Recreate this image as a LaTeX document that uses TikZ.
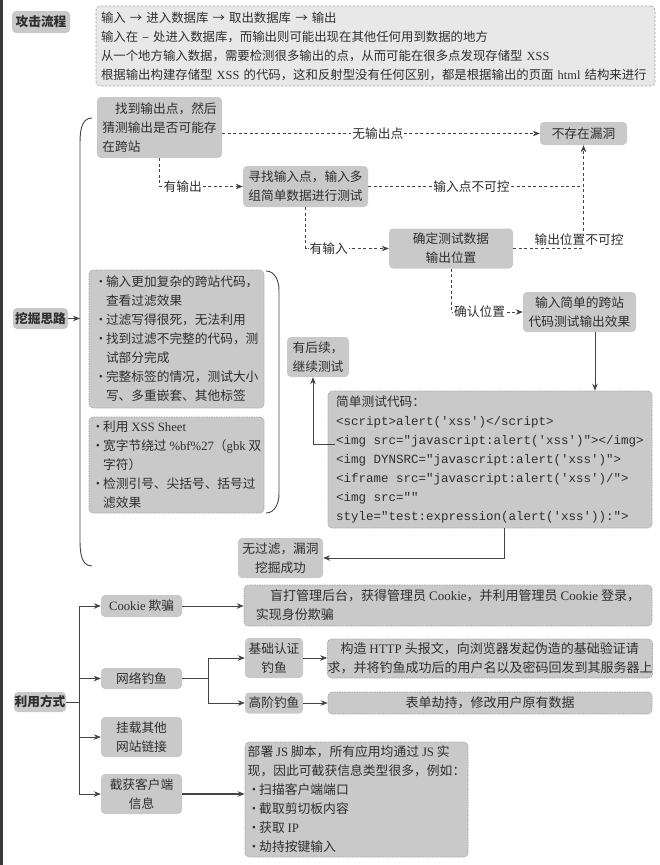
\documentclass[tikz,border=0pt]{standalone}
\usepackage{fontspec}
\setmainfont{Noto Sans CJK SC}
\newfontfamily\latf{Liberation Serif}
\newfontfamily\monof{Liberation Mono}
\usetikzlibrary{arrows.meta}
\definecolor{boxg}{HTML}{C9C9C9}
\definecolor{topg}{HTML}{E8E8E8}
\definecolor{txt}{HTML}{2E2E2E}
\definecolor{ln}{HTML}{444444}
\definecolor{bord}{HTML}{A5A5A5}
\definecolor{darkbar}{HTML}{3A3A3A}
\newcommand{\lw}[1]{{\latf #1}}
\newcommand{\bul}{\makebox[0.9em][l]{•}}
\newcommand{\ind}{\hspace*{0.9em}}
\tikzset{
  fs/.style={font=\fontsize{12.7}{19}\selectfont},
  fsb/.style={font=\fontsize{12.7}{19}\selectfont\bfseries},
  fsl/.style={font=\fontsize{13}{19}\selectfont},
  fst/.style={font=\fontsize{12.4}{19}\selectfont},
  nd/.style={fill=boxg, rounded corners=4pt, text=txt, inner sep=0pt, align=center, fs},
  hd/.style={nd, fsb},
  db/.style={nd, draw=bord, dash pattern=on 1.5pt off 1pt, line width=0.6pt},
  tb/.style={db, fill=topg, dash pattern=on 2.5pt off 1.5pt},
  lab/.style={fill=white, inner sep=1pt, text=txt, fs},
  dl/.style={draw=ln, dash pattern=on 3pt off 2.5pt, line width=0.8pt},
  sl/.style={draw=ln, line width=0.9pt},
  tip/.style={-{Stealth[length=7pt,width=5.5pt]}},
}
\begin{document}
\begin{tikzpicture}[x=1pt,y=-1pt]
\useasboundingbox (0,0) rectangle (659,865);
\fill[darkbar] (0,0) rectangle (3,865);

% ---- attack flow ----
\node[hd, minimum width=58, minimum height=22] (gjlc) at (41,22) {攻击流程};
\node[tb, minimum width=559, minimum height=80, text width=549, align=left, fst] (top) at (375.5,46) {%
输入 → 进入数据库 → 取出数据库 → 输出\\
输入在 – 处进入数据库，而输出则可能出现在其他任何用到数据的地方\\
从一个地方输入数据，需要检测很多输出的点，从而可能在很多点发现存储型 \lw{XSS}\\
根据输出构建存储型 \lw{XSS} 的代码，这和反射型没有任何区别，都是根据输出的页面 \lw{html} 结构来进行};

% ---- mining ideas ----
\node[hd, minimum width=55, minimum height=21] (wjsl) at (40.5,318.5) {挖掘思路};
\coordinate (bk) at (80,318.5);
\draw[sl,tip] (wjsl.east) -- (bk);
\draw[sl] (92,118) to[out=180,in=90] (80,146) -- (80,538) to[out=-90,in=180] (92,566);

\node[nd, minimum width=125, minimum height=61, align=left] (n1) at (159.5,127.5) {\hspace*{1em}找到输出点，然后\\猜测输出是否可能存\\在跨站};
\node[nd, minimum width=87, minimum height=23] (n4) at (583.5,133.5) {不存在漏洞};
\node[nd, minimum width=125, minimum height=41] (n2) at (305.5,186.5) {寻找输入点，输入多\\组简单数据进行测试};
\node[nd, minimum width=124, minimum height=40] (n3) at (451,248.5) {确定测试数据\\输出位置};
\node[nd, minimum width=113, minimum height=40] (n5) at (579.5,312) {输入简单的跨站\\代码测试输出效果};
\node[nd, minimum width=62, minimum height=40] (n6) at (318,357) {有后续，\\继续测试};
\node[nd, minimum width=85, minimum height=40] (n7) at (280.5,558) {无过滤，漏洞\\挖掘成功};

\node[db, minimum width=175, minimum height=138, align=left] (b1) at (176.5,339) {%
\bul 输入更加复杂的跨站代码，\\
\ind 查看过滤效果\\
\bul 过滤写得很死，无法利用\\
\bul 找到过滤不完整的代码，测\\
\ind 试部分完成\\
\bul 完整标签的情况，测试大小\\
\ind 写、多重嵌套、其他标签};
\node[db, minimum width=175, minimum height=96, align=left] (b2) at (176.5,465) {%
\bul 利用 \lw{XSS Sheet}\\
\bul 宽字节绕过 \lw{\%bf\%27}（\lw{gbk} 双\\
\ind 字符）\\
\bul 检测引号、尖括号、括号过\\
\ind 滤效果};
\draw[sl] (266,271) to[out=0,in=90] (279,290) -- (279,494) to[out=-90,in=0] (266,513);

\node[db, minimum width=324, minimum height=137, align=left] (code) at (490,459.5) {%
简单测试代码：\\
{\monof\fontsize{12.5}{19}\selectfont <script>alert('xss')</script>}\\
{\monof\fontsize{12.5}{19}\selectfont <img src="javascript:alert('xss')"></img>}\\
{\monof\fontsize{12.5}{19}\selectfont <img DYNSRC="javascript:alert('xss')">}\\
{\monof\fontsize{12.5}{19}\selectfont <iframe src="javascript:alert('xss')/">}\\
{\monof\fontsize{12.5}{19}\selectfont <img src=""}\\
{\monof\fontsize{12.5}{19}\selectfont style="test:expression(alert('xss')):">}};

% dashed flow
\draw[dl,tip] (n1.east |- n4.west) -- (n4.west) node[lab, pos=0.49] (l1) {无输出点};
\draw[dl,tip] (n1.south) -- (n1.south |- n2.west) -- (n2.west);
\node[lab, anchor=west] (l2) at ([xshift=3pt]n1.south |- n2.west) {有输出};
\coordinate (jn) at (n4.south |- n2.east);
\draw[dl] (n2.east) -- (jn) node[lab, pos=0.48] (l3) {输入点不可控};
\draw[dl,tip] (n3.east) -| (n4.south);
\node[lab] (l4) at (579,240) {输出位置不可控};
\draw[dl,tip] (n2.south) -- (n2.south |- n3.west) -- (n3.west);
\node[lab, anchor=west] (l5) at ([xshift=3pt]n2.south |- n3.west) {有输入};
\draw[dl,tip] (n3.south) -- (n3.south |- n5.west) -- (n5.west);
\node[lab, anchor=west] (l6) at ([xshift=2pt]n3.south |- n5.west) {确认位置};

% solid flow
\draw[sl,tip] ([xshift=15.5pt]n5.south) -- ([xshift=15.5pt]n5.south |- code.north);
\coordinate (c1) at (335,444);
\draw[sl,tip] (c1) -| ([xshift=-5pt]n6.south);
\draw[sl,tip] ([xshift=14pt]code.south) |- (n7.east);

% ---- exploitation ----
\node[hd, minimum width=52, minimum height=20] (lyfs) at (40,702) {利用方式};
\coordinate (tr) at (79,702);
\draw[sl] (lyfs.east) -- (tr);
\node[nd, minimum width=81, minimum height=22] (ck) at (141.5,606) {\lw{Cookie} 欺骗};
\node[nd, minimum width=81, minimum height=21] (wl) at (141.5,678.5) {网络钓鱼};
\node[nd, minimum width=81, minimum height=40] (gz) at (141.5,737) {挂载其他\\网站链接};
\node[nd, minimum width=81, minimum height=40] (jh) at (141.5,794) {截获客户端\\信息};
\draw[sl,tip] (tr) |- (ck.west);
\draw[sl,tip] (tr) |- (wl.west);
\draw[sl,tip] (tr) |- (gz.west);
\draw[sl,tip] (tr) |- (jh.west);

\node[db, minimum width=408, minimum height=41, align=left, fsl] (ckd) at (448,605.5) {\hspace*{1.1em}盲打管理后台，获得管理员 \lw{Cookie}，并利用管理员 \lw{Cookie} 登录，\\实现身份欺骗};
\draw[sl,tip] (ck.east) -- (ck.east -| ckd.west);

\node[nd, minimum width=58, minimum height=40] (jc) at (274,658) {基础认证\\钓鱼};
\node[nd, minimum width=58, minimum height=21] (gjd) at (274,703) {高阶钓鱼};
\coordinate (fj) at (208,678.5);
\draw[sl] (wl.east) -- (fj);
\draw[sl,tip] (fj) |- (jc.west);
\draw[sl,tip] (fj) |- (gjd.west);
\node[db, minimum width=324, minimum height=39, align=left, fsl] (jcd) at (490,658.5) {\hspace*{1em}构造 \lw{HTTP} 头报文，向浏览器发起伪造的基础验证请\\求，并将钓鱼成功后的用户名以及密码回发到其服务器上};
\node[db, minimum width=324, minimum height=22, fsl] (gjdd) at (490,703) {表单劫持，修改用户原有数据};
\draw[sl,tip] (jc.east) -- (jc.east -| jcd.west);
\draw[sl,tip] (gjd.east) -- (gjd.east -| gjdd.west);

\node[db, minimum width=223, minimum height=115, align=left, font=\fontsize{12.8}{19}\selectfont] (jhd) at (356.5,799.5) {%
部署 \lw{JS} 脚本，所有应用均通过 \lw{JS} 实\\
现，因此可截获信息类型很多，例如：\\
\bul 扫描客户端端口\\
\bul 截取剪切板内容\\
\bul 获取 \lw{IP}\\
\bul 劫持按键输入};
\draw[sl,tip,line width=1.6pt] (jh.east) -- (jh.east -| jhd.west);
\end{tikzpicture}
\end{document}
